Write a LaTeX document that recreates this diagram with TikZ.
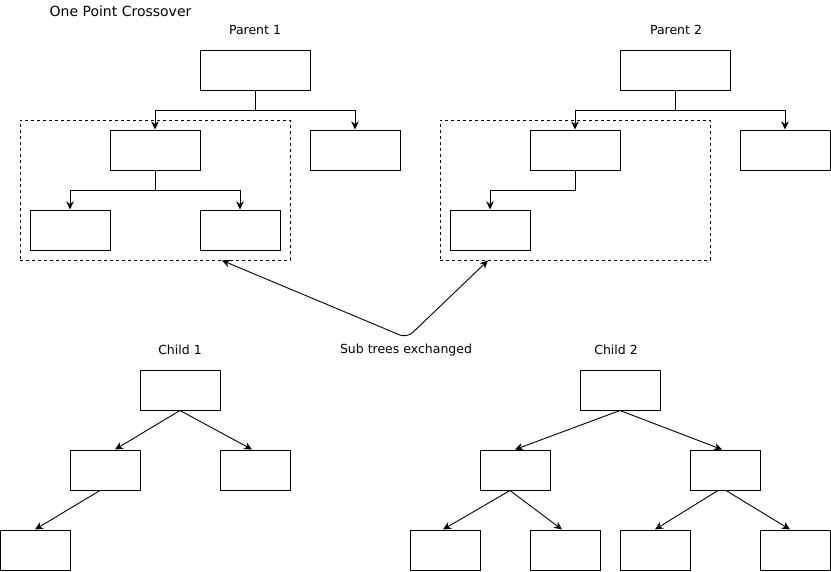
\documentclass[tikz,border=0pt]{standalone}
\usepackage{fontspec}
\setmainfont{DejaVu Sans}
\usetikzlibrary{arrows.meta}
\begin{document}
\begin{tikzpicture}[x=1pt,y=-1pt,
  box/.style={draw,line width=1pt,rectangle,inner sep=0pt,minimum height=40pt},
  subtree/.style={draw,line width=0.9pt,dash pattern=on 3pt off 3pt,rectangle,inner sep=0pt,minimum width=270pt,minimum height=140pt},
  edge/.style={line width=0.9pt,-{Stealth[length=8pt,width=7.5pt,inset=2.5pt]}},
  link/.style={line width=0.9pt,{Stealth[length=8pt,width=7.5pt,inset=2.5pt]}-{Stealth[length=8pt,width=7.5pt,inset=2.5pt]},rounded corners=8pt},
  lbl/.style={font=\fontsize{12.5}{15}\selectfont,inner sep=0pt}]
\useasboundingbox (0,0) rectangle (831,571);

% titles
\node[font=\fontsize{14}{16}\selectfont,inner sep=0pt] (title) at (120.5,11) {One Point Crossover};
\node[lbl] (lp1) at (255,30) {Parent 1};
\node[lbl] (lp2) at (676,30) {Parent 2};
\node[lbl] (lc1) at (180,350) {Child 1};
\node[lbl] (lc2) at (616,350) {Child 2};
\node[lbl] (lx) at (406,350) {Sub trees exchanged};

% parent 1
\node[subtree] (p1sub) at (155,190) {};
\node[box,minimum width=110pt] (p1root) at (255,70) {};
\node[box,minimum width=90pt] (p1a) at (155,150) {};
\node[box,minimum width=90pt] (p1b) at (355,150) {};
\node[box,minimum width=80pt] (p1c) at (70,230) {};
\node[box,minimum width=80pt] (p1d) at (240,230) {};
\draw[edge] (p1root.south) -- ++(0,20) -| (p1a.north);
\draw[edge] (p1root.south) -- ++(0,20) -| (p1b.north);
\draw[edge] (p1a.south) -- ++(0,20) -| (p1c.north);
\draw[edge] (p1a.south) -- ++(0,20) -| (p1d.north);

% parent 2
\node[subtree] (p2sub) at (575,190) {};
\node[box,minimum width=110pt] (p2root) at (675,70) {};
\node[box,minimum width=90pt] (p2a) at (575,150) {};
\node[box,minimum width=90pt] (p2b) at (785,150) {};
\node[box,minimum width=80pt] (p2c) at (490,230) {};
\draw[edge] (p2root.south) -- ++(0,20) -| (p2a.north);
\draw[edge] (p2root.south) -- ++(0,20) -| (p2b.north);
\draw[edge] (p2a.south) -- ++(0,20) -| (p2c.north);

% exchange of the sub trees
\coordinate (bend) at (407,338);
\draw[link] ([xshift=67pt]p1sub.south) -- (bend) -- ([xshift=-87pt]p2sub.south);

% child 1
\node[box,minimum width=80pt] (c1root) at (180,390) {};
\node[box,minimum width=70pt] (c1l) at (105,470) {};
\node[box,minimum width=70pt] (c1r) at (255,470) {};
\node[box,minimum width=70pt] (c1ll) at (35,550) {};
\draw[edge] (c1root.south) -- ([xshift=10pt]c1l.north);
\draw[edge] (c1root.south) -- ([xshift=-3pt]c1r.north);
\draw[edge] ([xshift=-5pt]c1l.south) -- (c1ll.north);

% child 2
\node[box,minimum width=80pt] (c2root) at (620,390) {};
\node[box,minimum width=70pt] (c2l) at (515,470) {};
\node[box,minimum width=70pt] (c2r) at (725,470) {};
\node[box,minimum width=70pt] (c2ll) at (445,550) {};
\node[box,minimum width=70pt] (c2lr) at (565,550) {};
\node[box,minimum width=70pt] (c2rl) at (655,550) {};
\node[box,minimum width=70pt] (c2rr) at (795,550) {};
\draw[edge] (c2root.south) -- (c2l.north);
\draw[edge] (c2root.south) -- ([xshift=-3pt]c2r.north);
\draw[edge] ([xshift=-5pt]c2l.south) -- ([xshift=-2pt]c2ll.north);
\draw[edge] ([xshift=-5pt]c2l.south) -- ([xshift=-3pt]c2lr.north);
\draw[edge] ([xshift=-7pt]c2r.south) -- (c2rl.north);
\draw[edge] ([xshift=1pt]c2r.south) -- ([xshift=-5pt]c2rr.north);
\end{tikzpicture}
\end{document}
